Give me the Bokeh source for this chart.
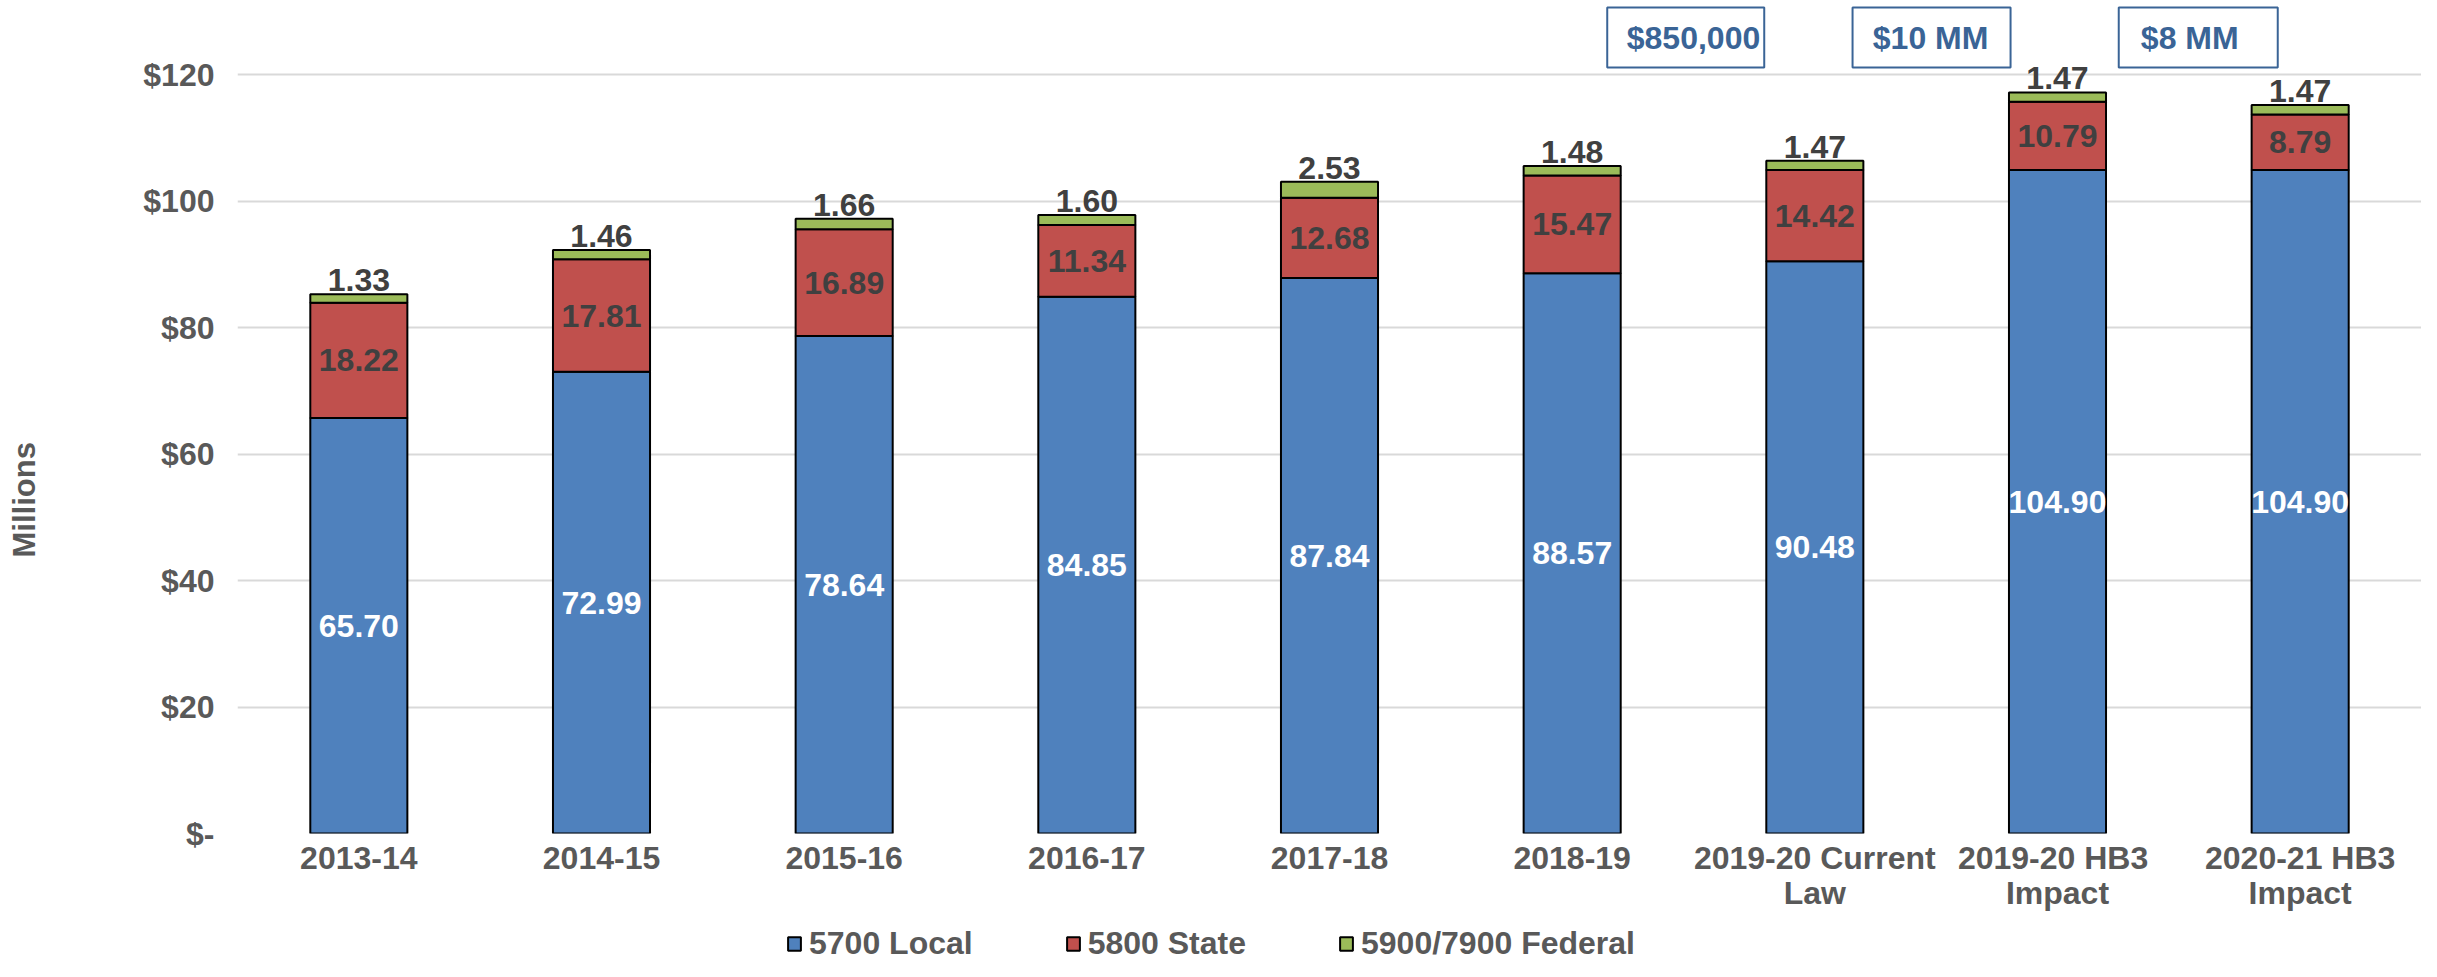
from bokeh.plotting import figure
from bokeh.layouts import column
from bokeh.models import ColumnDataSource, FixedTicker, Legend, LegendItem, Title, Range1d
from bokeh.core.properties import value
from bokeh.embed import file_html
from bokeh.resources import INLINE

# ---- data ----
years = ["2013-14", "2014-15", "2015-16", "2016-17", "2017-18", "2018-19",
         "2019-20 Current\nLaw", "2019-20  HB3\nImpact", "2020-21 HB3\nImpact"]
local = [65.70, 72.99, 78.64, 84.85, 87.84, 88.57, 90.48, 104.90, 104.90]
state = [18.22, 17.81, 16.89, 11.34, 12.68, 15.47, 14.42, 10.79, 8.79]
federal = [1.33, 1.46, 1.66, 1.60, 2.53, 1.48, 1.47, 1.47, 1.47]
series = ["5700 Local", "5800 State", "5900/7900 Federal"]
y_ticks = [0, 20, 40, 60, 80, 100, 120]
y_tick_labels = ["$-", "$20", "$40", "$60", "$80", "$100", "$120"]
notes = ["$850,000", "$10 MM", "$8 MM"]
y_title = "Millions"

# ---- styling / layout ----
FONT = "Liberation Sans"
BLUE, RED, GREEN = "#4F81BD", "#C0504D", "#9BBB59"
COLORS = [BLUE, RED, GREEN]
GRAY = "#595959"
DARK = "#404040"
NOTE_C = "#3A6496"

note_box_x = [5.968, 6.981, 8.08]
note_txt_x = [6.0, 6.977, 8.045]
note_w = [157, 158, 159]
note_y = 125.85

src = ColumnDataSource(dict(
    years=years, local=local, state=state, federal=federal,
    local_mid=[l / 2 for l in local],
    state_mid=[l + s / 2 for l, s in zip(local, state)],
    total=[l + s + f for l, s, f in zip(local, state, federal)],
    local_txt=["%.2f" % v for v in local],
    state_txt=["%.2f" % v for v in state],
    fed_txt=["%.2f" % v for v in federal],
))

p = figure(width=2421, height=923, x_range=years, y_range=(0, 131.7),
           output_backend="svg", toolbar_location=None,
           min_border_left=235, min_border_right=0, min_border_top=0,
           min_border_bottom=90)
p.outline_line_color = None

rs = p.vbar_stack(["local", "state", "federal"], x="years", width=0.4, source=src,
                  color=COLORS, line_color="black", line_width=2)

common = dict(text_font=value(FONT), text_font_style="bold", text_font_size="32px",
              text_align="center")
p.text(x="years", y="local_mid", text="local_txt", source=src, text_color="white",
       text_baseline="middle", **common)
p.text(x="years", y="state_mid", text="state_txt", source=src, text_color=DARK,
       text_baseline="middle", **common)
p.text(x="years", y="total", text="fed_txt", source=src, text_color=DARK,
       text_baseline="bottom", y_offset=-3, **common)

# note boxes
nsrc = ColumnDataSource(dict(bx=note_box_x, tx=note_txt_x, y=[note_y] * 3, w=note_w, t=notes))
p.rect(x="bx", y="y", width="w", height=60, width_units="screen", height_units="screen",
       source=nsrc, fill_color="white", line_color=NOTE_C, line_width=2)
p.text(x="tx", y="y", text="t", source=nsrc, text_color=NOTE_C,
       text_baseline="middle", **common)

# axes
p.yaxis.ticker = FixedTicker(ticks=y_ticks)
p.yaxis.major_label_overrides = {t: l for t, l in zip(y_ticks, y_tick_labels)}
for ax in (p.xaxis[0], p.yaxis[0]):
    ax.axis_line_color = None
    ax.major_tick_line_color = None
    ax.minor_tick_line_color = None
    ax.major_label_text_font = FONT
    ax.major_label_text_font_style = "bold"
    ax.major_label_text_font_size = "32px"
    ax.major_label_text_color = GRAY
p.xaxis.major_label_text_line_height = 0.98
p.yaxis.major_label_standoff = 17
p.yaxis.axis_label = " "
p.yaxis.axis_label_standoff = 55
p.yaxis.axis_label_text_font_size = "31px"
p.xaxis.major_label_standoff = 0

p.xgrid.grid_line_color = None
p.ygrid.grid_line_color = "#D9D9D9"
p.ygrid.grid_line_width = 2
p.ygrid.ticker = FixedTicker(ticks=y_ticks)

p.add_layout(Title(text=y_title, align="left", offset=276, vertical_align="middle",
                   text_font=FONT, text_font_style="bold", text_font_size="31px",
                   text_color=GRAY), "left")

# legend strip (no axes, frame = whole strip)
lg = figure(width=2421, height=38, x_range=Range1d(0, 1), y_range=Range1d(0, 1),
            x_axis_location=None, y_axis_location=None,
            output_backend="svg", toolbar_location=None,
            min_border=0, min_border_left=0, min_border_right=0,
            min_border_top=0, min_border_bottom=0)
lg.grid.visible = False
lg.outline_line_color = None
# swatch renderers: one undrawn (NaN) bar each, only used for legend swatches
lrs = [lg.vbar(x=[0.5], top=[float("nan")], width=0.1, fill_color=c,
               line_color="black", line_width=2) for c in COLORS]
legend = Legend(items=[LegendItem(label=s, renderers=[r]) for s, r in zip(series, lrs)],
                orientation="horizontal", location=(549, -1),
                label_text_font=FONT, label_text_font_style="bold",
                label_text_font_size="32px", label_text_color=GRAY,
                glyph_width=16, glyph_height=17, label_standoff=7, spacing=92,
                padding=0, margin=0, border_line_color=None,
                background_fill_alpha=0)
lg.add_layout(legend)

open("out.html", "w").write(file_html(column(p, lg, spacing=0), INLINE))
